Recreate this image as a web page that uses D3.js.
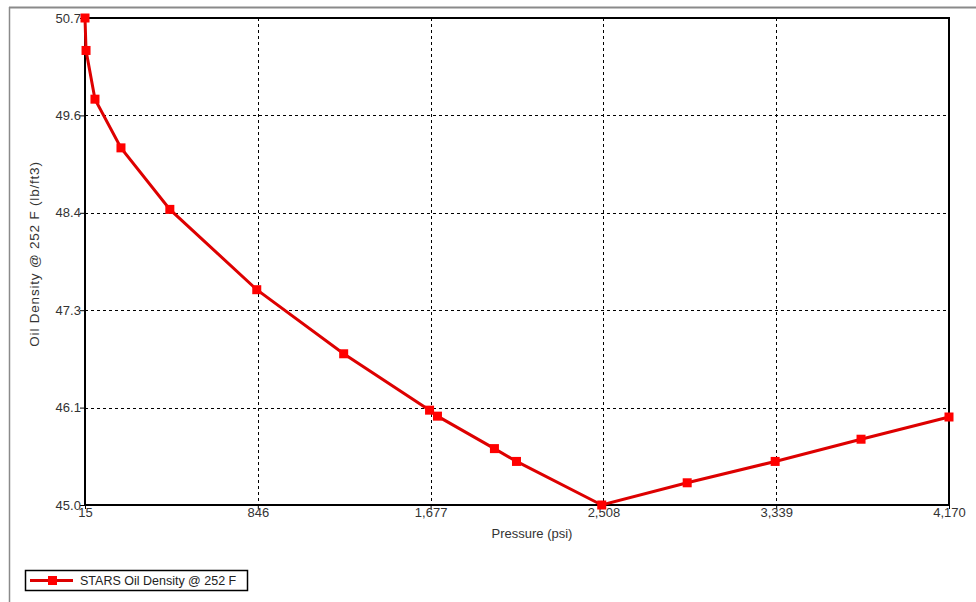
<!DOCTYPE html>
<html>
<head>
<meta charset="utf-8">
<script src="https://cdn.jsdelivr.net/npm/d3@7"></script>
<style>
  body { margin: 0; background: #fff; }
  svg { display: block; font-family: "Liberation Sans", Arial, sans-serif; }
</style>
</head>
<body>
<div id="chart"></div>
<script>
// pressure (psi) and oil density (lb/ft3)
const pressure = [15, 20, 63, 188, 423, 841, 1259, 1672, 1710, 1984, 2090, 2500, 2911, 3334, 3747, 4170];
const density = [50.7, 50.32, 49.75, 49.18, 48.46, 47.52, 46.77, 46.11, 46.04, 45.66, 45.51, 45.0, 45.26, 45.51, 45.77, 46.03];
const xTicks = [15, 846, 1677, 2508, 3339, 4170];
const yTicks = [45.0, 46.14, 47.28, 48.42, 49.56, 50.7];
const seriesName = "STARS Oil Density @ 252 F";

let width = 976,
    height = 602;
let margin = { left: 85, right: 27, top: 18, bottom: 97 };

let svg = d3.select("#chart").append("svg")
    .attr("width", width)
    .attr("height", height);

// outer frame (only top/left edges show)
svg.append("line").attr("x1", 9).attr("x2", width).attr("y1", 7.5).attr("y2", 7.5)
    .attr("stroke", "#8a8a8a").attr("stroke-width", 2);
svg.append("line").attr("x1", 9.5).attr("x2", 9.5).attr("y1", 7).attr("y2", height)
    .attr("stroke", "#8a8a8a").attr("stroke-width", 1.5);

let x = d3.scaleLinear().domain([15, 4170]).range([margin.left, width - margin.right]);
let y = d3.scaleLinear().domain([45, 50.7]).range([height - margin.bottom, margin.top]);

// grid
let grid = svg.append("g");
grid.selectAll(".vg").data(xTicks.slice(1, -1)).enter().append("line")
    .attr("x1", d => Math.round(x(d)) + 0.5).attr("x2", d => Math.round(x(d)) + 0.5)
    .attr("y1", y(50.7)).attr("y2", y(45))
    .attr("stroke", "#000").attr("stroke-dasharray", "3,3");
grid.selectAll(".hg").data(yTicks.slice(1, -1)).enter().append("line")
    .attr("x1", x(15)).attr("x2", x(4170))
    .attr("y1", d => Math.round(y(d)) + 0.5).attr("y2", d => Math.round(y(d)) + 0.5)
    .attr("stroke", "#000").attr("stroke-dasharray", "3,3");

// axes
let xAxis = d3.axisBottom(x).tickValues(xTicks).tickFormat(d3.format(",")).tickSize(4);
let yAxis = d3.axisLeft(y).tickValues(yTicks).tickFormat(d3.format(".1f")).tickSize(5);

let gx = svg.append("g").attr("transform", `translate(0,${y(45)})`).call(xAxis);
gx.select(".domain").remove();
gx.selectAll("text").attr("fill", "#333").style("font-size", "13px").attr("dy", "0.4em");
gx.selectAll("line").attr("stroke", "#000");

let gy = svg.append("g").attr("transform", `translate(${x(15)},0)`).call(yAxis);
gy.select(".domain").remove();
gy.selectAll("text").attr("fill", "#333").style("font-size", "13px").attr("dx", "0.3em");
gy.selectAll("line").attr("stroke", "#000");

// plot border
svg.append("rect")
    .attr("x", x(15)).attr("y", y(50.7))
    .attr("width", x(4170) - x(15)).attr("height", y(45) - y(50.7))
    .attr("fill", "none").attr("stroke", "#000").attr("stroke-width", 2);

// axis titles
svg.append("text").attr("x", 532).attr("y", 538)
    .attr("text-anchor", "middle").attr("fill", "#333").style("font-size", "13px")
    .text("Pressure (psi)");
svg.append("text")
    .attr("transform", "translate(39,254) rotate(-90)")
    .attr("text-anchor", "middle").attr("fill", "#333").style("font-size", "13.5px")
    .style("letter-spacing", "0.8px")
    .text("Oil Density @ 252 F  (lb/ft3)");

// series
let data = pressure.map((p, i) => ({ p: p, d: density[i] }));
let line = d3.line().x(d => x(d.p)).y(d => y(d.d));
svg.append("path").datum(data)
    .attr("d", line)
    .attr("fill", "none").attr("stroke", "#dd0000").attr("stroke-width", 3);
svg.selectAll(".pt").data(data).enter().append("rect")
    .attr("x", d => x(d.p) - 4.5).attr("y", d => y(d.d) - 4.5)
    .attr("width", 9).attr("height", 9)
    .attr("fill", "#ff0000");

// legend
let legend = svg.append("g").attr("transform", "translate(25,570)");
legend.append("rect").attr("x", 0.5).attr("y", 0.5).attr("width", 222).attr("height", 20)
    .attr("fill", "#fff").attr("stroke", "#000").attr("stroke-width", 1.5);
legend.append("line").attr("x1", 5).attr("x2", 48).attr("y1", 10.5).attr("y2", 10.5)
    .attr("stroke", "#dd0000").attr("stroke-width", 3);
legend.append("rect").attr("x", 23).attr("y", 6).attr("width", 9).attr("height", 9)
    .attr("fill", "#ff0000");
legend.append("text").attr("x", 55).attr("y", 15)
    .attr("fill", "#222").style("font-size", "12.5px")
    .text(seriesName);
</script>
</body>
</html>
